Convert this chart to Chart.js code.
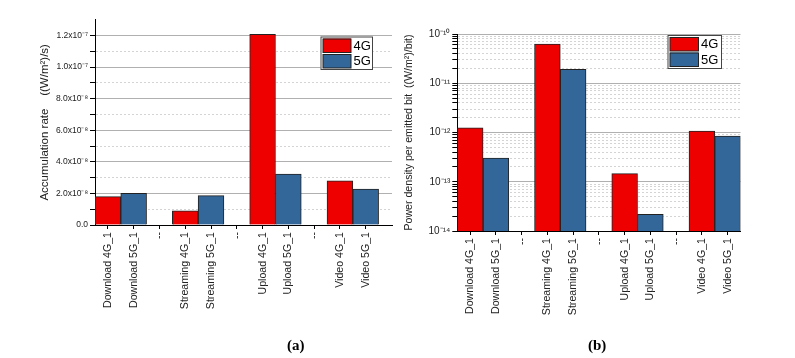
<!DOCTYPE html>
<html>
<head>
<meta charset="utf-8">
<script src="https://cdn.jsdelivr.net/npm/chart.js@4"></script>
<style>
body { margin: 0; background: #fff; }
#wrap { position: relative; width: 795px; height: 358px; overflow: hidden; }
canvas { position: absolute; top: 0; }
.cap { position: absolute; font: bold 15px "Liberation Serif", "Times New Roman", serif; color: #000; }
</style>
</head>
<body>
<div id="wrap">
  <canvas id="chartA" width="400" height="358" style="left:0"></canvas>
  <canvas id="chartB" width="395" height="358" style="left:400px"></canvas>
  <div class="cap" style="left:287px; top:337px">(a)</div>
  <div class="cap" style="left:588px; top:337px">(b)</div>
</div>
<script>
let categories = ['Download 4G_1', 'Download 5G_1', '--', 'Streaming 4G_1', 'Streaming 5G_1', '--',
                  'Upload 4G_1', 'Upload 5G_1', '--', 'Video 4G_1', 'Video 5G_1'];

// (a) accumulation rate
let accum4G = [1.8e-8, null, null, 8.9e-9, null, null, 1.208e-7, null, null, 2.79e-8, null];
let accum5G = [null, 2.0e-8, null, null, 1.86e-8, null, null, 3.23e-8, null, null, 2.28e-8];

// (b) power density per emitted bit
let power4G = [1.25e-12, null, null, 6.27e-11, null, null, 1.46e-13, null, null, 1.07e-12, null];
let power5G = [null, 3.03e-13, null, null, 1.92e-11, null, null, 2.18e-14, null, null, 8.5e-13];

let accumTickValues = [0, 1e-8, 2e-8, 3e-8, 4e-8, 5e-8, 6e-8, 7e-8, 8e-8, 9e-8, 1e-7, 1.1e-7, 1.2e-7];
let accumTickLabels = ['0.0', '', '2.0x10⁻⁸', '', '4.0x10⁻⁸', '', '6.0x10⁻⁸', '', '8.0x10⁻⁸', '',
                       '1.0x10⁻⁷', '', '1.2x10⁻⁷'];

let powerDecades = [1e-14, 1e-13, 1e-12, 1e-11, 1e-10];
let powerDecadeLabels = ['10⁻¹⁴', '10⁻¹³', '10⁻¹²', '10⁻¹¹', '10⁻¹⁰'];

let red = '#ee0000';
let blue = '#336699';
let font = '"Liberation Sans", Arial, sans-serif';

function toPoints(vals) {
  return vals.map((v, i) => ({x: i + 1, y: v})).filter(p => p.y !== null);
}

// minor ticks 1..9 per decade, label only on decades
let powerTicks = [];
let powerLabels = [];
for (let d = 0; d < powerDecades.length; d++) {
  let top = d === powerDecades.length - 1 ? 1 : 9;
  for (let m = 1; m <= top; m++) {
    powerTicks.push(m * powerDecades[d]);
    powerLabels.push(m === 1 ? powerDecadeLabels[d] : '');
  }
}

const boxLegend = {
  id: 'boxLegend',
  afterDraw(chart, args, o) {
    const ctx = chart.ctx;
    ctx.save();
    ctx.fillStyle = '#fff';
    ctx.fillRect(o.x, o.y, o.w, o.h);
    ctx.strokeStyle = '#444';
    ctx.lineWidth = 1;
    ctx.strokeRect(o.x + 0.5, o.y + 0.5, o.w, o.h);
    chart.data.datasets.forEach((ds, i) => {
      const sy = o.y + 2 + i * o.row;
      ctx.fillStyle = ds.backgroundColor;
      ctx.fillRect(o.x + 2.5, sy, o.sw, o.row - 1.5);
      ctx.strokeStyle = '#222';
      ctx.strokeRect(o.x + 2.5, sy + 0.5, o.sw, o.row - 2);
      ctx.fillStyle = '#000';
      ctx.font = '13px ' + font;
      ctx.textBaseline = 'middle';
      ctx.fillText(ds.label, o.x + o.sw + 5, sy + o.row / 2);
    });
    ctx.restore();
  }
};

function makeChart(id, cfg) {
  return new Chart(document.getElementById(id), {
    type: 'bar',
    data: {
      datasets: [
        {label: '4G', data: toPoints(cfg.s4), backgroundColor: red, borderColor: '#222', borderWidth: 1,
         grouped: false, barPercentage: 1, categoryPercentage: 1},
        {label: '5G', data: toPoints(cfg.s5), backgroundColor: blue, borderColor: '#222', borderWidth: 1,
         grouped: false, barPercentage: 1, categoryPercentage: 1}
      ]
    },
    options: {
      responsive: false,
      animation: false,
      devicePixelRatio: 1,
      layout: {padding: cfg.padding},
      plugins: {
        legend: {display: false},
        tooltip: {enabled: false},
        boxLegend: cfg.legend
      },
      scales: {
        x: {
          type: 'linear',
          min: 0.5,
          max: cfg.xMax,
          offset: false,
          afterBuildTicks: s => { s.ticks = categories.map((c, i) => ({value: i + 1})); },
          afterFit: s => { s.height = cfg.xHeight; },
          ticks: {
            autoSkip: false, minRotation: 90, maxRotation: 90, padding: 3, color: '#222',
            font: {family: font, size: 10.6},
            callback: v => categories[Math.round(v) - 1]
          },
          grid: {drawOnChartArea: false, offset: false, tickLength: 4, tickColor: '#000'},
          border: {color: '#000', width: 1}
        },
        y: {
          type: cfg.yType,
          min: cfg.yMin,
          max: cfg.yMax,
          afterBuildTicks: s => { s.ticks = cfg.tickValues.map(v => ({value: v})); },
          afterFit: s => { s.width = cfg.yWidth; },
          ticks: {
            autoSkip: false, padding: 2, color: '#222',
            font: {family: font, size: cfg.tickSize},
            callback: (v, i) => cfg.tickLabels[i]
          },
          grid: {
            color: c => (c.tick && cfg.tickLabels[c.index] === '') ? '#d4d4d4' : '#b0b0b0',
            tickLength: 5,
            tickColor: '#000'
          },
          border: {
            color: '#000', width: 1,
            dash: c => (c.tick && cfg.tickLabels[c.index] === '') ? [2, 2] : []
          },
          title: {
            display: true, text: cfg.title, color: '#222',
            font: {family: font, size: cfg.titleSize},
            padding: {top: cfg.titlePad, bottom: 0}
          }
        }
      }
    },
    plugins: [boxLegend]
  });
}

makeChart('chartA', {
  s4: accum4G, s5: accum5G,
  padding: {top: 19.7, right: 8, left: 0, bottom: 0},
  xMax: 12.02, xHeight: 133, yWidth: 95,
  yType: 'linear', yMin: 0, yMax: 1.3e-7,
  tickValues: accumTickValues, tickLabels: accumTickLabels, tickSize: 8.5,
  title: 'Accumulation rate    ((W/m²)/s)', titleSize: 11.5, titlePad: 38,
  legend: {x: 320.5, y: 36.5, w: 51.5, h: 32.5, sw: 28, row: 15.5}
});

makeChart('chartB', {
  s4: power4G, s5: power5G,
  padding: {top: 34, right: 54.5, left: 0, bottom: 0},
  xMax: 11.5, xHeight: 127, yWidth: 57.3,
  yType: 'logarithmic', yMin: 1e-14, yMax: 1e-10,
  tickValues: powerTicks, tickLabels: powerLabels, tickSize: 10,
  title: 'Power density per emitted bit  ((W/m²)/bit)', titleSize: 10.6, titlePad: 3,
  legend: {x: 267.5, y: 35, w: 53.5, h: 33, sw: 28.5, row: 15.5}
});
</script>
</body>
</html>
